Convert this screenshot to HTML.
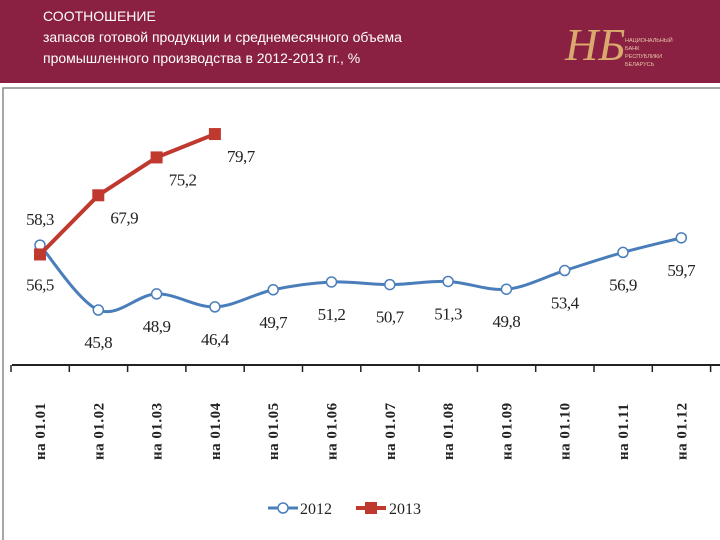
<!DOCTYPE html>
<html><head><meta charset="utf-8"><style>
body{margin:0;width:720px;height:540px;background:#fff;overflow:hidden;font-family:"Liberation Sans",sans-serif}
#hdr{position:absolute;left:0;top:0;width:720px;height:83px;background:#8a2142}
#ttl{position:absolute;left:43px;top:6px;color:#fff;font-size:14px;line-height:21px}
</style></head><body>
<div id="hdr">
<div id="ttl">СООТНОШЕНИЕ<br>запасов готовой продукции и среднемесячного объема<br>промышленного производства в 2012-2013 гг., %</div>
<svg style="position:absolute;left:560px;top:12px" width="140" height="62">
<text x="5" y="48" font-family="Liberation Serif,serif" font-style="italic" font-size="46" fill="#d9a96e">НБ</text>
<text x="65" y="30" font-size="5.5" fill="#e8c8a8">НАЦИОНАЛЬНЫЙ</text>
<text x="65" y="38" font-size="5.5" fill="#e8c8a8">БАНК</text>
<text x="65" y="46" font-size="5.5" fill="#e8c8a8">РЕСПУБЛИКИ</text>
<text x="65" y="54" font-size="5.5" fill="#e8c8a8">БЕЛАРУСЬ</text>
</svg></div>
<svg id="chart" width="720" height="540" style="position:absolute;left:0;top:0"></svg>
<script>
const categories=["на 01.01","на 01.02","на 01.03","на 01.04","на 01.05","на 01.06","на 01.07","на 01.08","на 01.09","на 01.10","на 01.11","на 01.12"];
const values2012=[58.3,45.8,48.9,46.4,49.7,51.2,50.7,51.3,49.8,53.4,56.9,59.7];
const values2013=[56.5,67.9,75.2,79.7];
const labels2012=["58,3","45,8","48,9","46,4","49,7","51,2","50,7","51,3","49,8","53,4","56,9","59,7"];
const labels2013=["56,5","67,9","75,2","79,7"];
const ns="http://www.w3.org/2000/svg",svg=document.getElementById('chart');
const X=i=>40+i*58.3, Y=v=>310-(v-45.8)*5.19;
function mk(t,a,p){const e=document.createElementNS(ns,t);for(const k in a)e.setAttribute(k,a[k]);(p||svg).appendChild(e);return e;}
const frame=mk('path',{d:'M3,540 V88 H720',fill:'none',stroke:'#888','stroke-width':1.5});


const ax=mk('line',{x1:12,x2:720,y1:365,y2:365,stroke:'#222','stroke-width':2});


for(let i=0;i<=categories.length;i++){
 const t=mk('line',{x1:X(i)-29,x2:X(i)-29,y1:365,y2:372,stroke:'#222','stroke-width':1.5});
 
 
}
categories.forEach((c,i)=>{
 const t=mk('text',{x:0,y:0,transform:`translate(${X(i)+5},460) rotate(-90)`,'font-family':'Liberation Serif,serif','font-size':15,'font-weight':'bold',fill:'#222','letter-spacing':'0.5'});
 t.textContent=c;
 
 
});
let d='';const pts=values2012.map((v,i)=>[X(i),Y(v)]);
pts.forEach((p,i)=>{if(!i){d='M'+p;return;}const p0=pts[i-2]||pts[i-1],p1=pts[i-1],p3=pts[i+1]||p;
 const c1=[p1[0]+(p[0]-p0[0])/6,p1[1]+(p[1]-p0[1])/6],c2=[p[0]-(p3[0]-p1[0])/6,p[1]-(p3[1]-p1[1])/6];d+=` C${c1} ${c2} ${p}`;});
const l1=mk('path',{d,fill:'none',stroke:'#4a7ebb','stroke-width':3});


pts.forEach((p,i)=>{
 const c=mk('circle',{cx:p[0],cy:p[1],r:5,fill:'#fff',stroke:'#4a7ebb','stroke-width':1.5});
 
 
 const t=mk('text',{x:p[0],y:i?p[1]+38:p[1]-20,'text-anchor':'middle','font-family':'Liberation Serif,serif','font-size':17,'letter-spacing':'-0.5',fill:'#222'});
 t.textContent=labels2012[i];
 
 
});
const rp=values2013.map((v,i)=>[X(i),Y(v)]);
const l2=mk('polyline',{points:rp.join(' '),fill:'none',stroke:'#c0392f','stroke-width':4});


rp.forEach((p,i)=>{
 const s=mk('rect',{x:p[0]-6,y:p[1]-6,width:12,height:12,fill:'#c0392f'});
 
 
 const t=mk('text',{x:i?p[0]+26:p[0],y:i?p[1]+28:p[1]+36,'text-anchor':'middle','font-family':'Liberation Serif,serif','font-size':17,'letter-spacing':'-0.5',fill:'#222'});
 t.textContent=labels2013[i];
 
 
});
const lg=mk('g',{});


mk('line',{x1:268,x2:298,y1:508,y2:508,stroke:'#4a7ebb','stroke-width':3},lg);
mk('circle',{cx:283,cy:508,r:5,fill:'#fff',stroke:'#4a7ebb','stroke-width':1.5},lg);
const t1=mk('text',{x:300,y:514,'font-family':'Liberation Serif,serif','font-size':16,fill:'#222'},lg);t1.textContent='2012';
mk('line',{x1:356,x2:386,y1:508,y2:508,stroke:'#c0392f','stroke-width':4},lg);
mk('rect',{x:365,y:502,width:12,height:12,fill:'#c0392f'},lg);
const t2=mk('text',{x:389,y:514,'font-family':'Liberation Serif,serif','font-size':16,fill:'#222'},lg);t2.textContent='2013';
</script>
</body></html>
